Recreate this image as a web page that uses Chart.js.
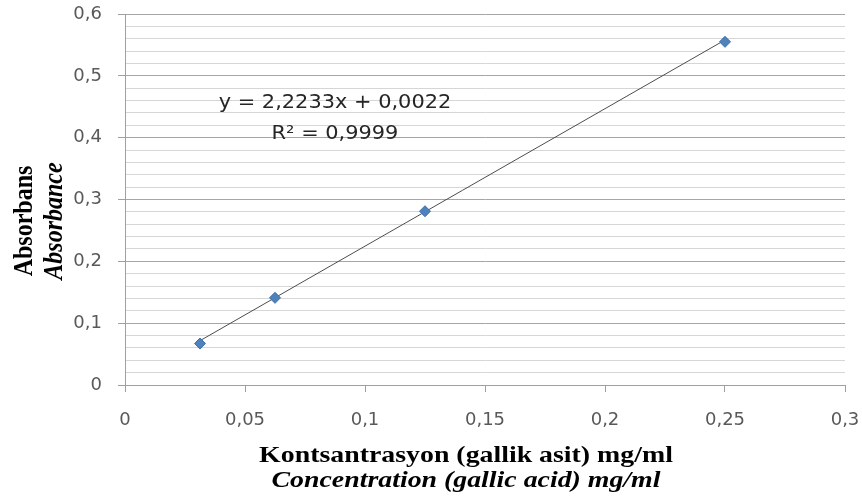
<!DOCTYPE html>
<html>
<head>
<meta charset="utf-8">
<script src="https://cdn.jsdelivr.net/npm/chart.js@4.4.0/dist/chart.umd.min.js"></script>
<style>
  html, body { margin: 0; padding: 0; background: #fff; }
</style>
</head>
<body>
<canvas id="calib" width="862" height="497"></canvas>
<script>
// standard points (gallic acid)
const concentration = [0.03125, 0.0625, 0.125, 0.25];
const absorbance = [0.067, 0.141, 0.281, 0.555];

// linear trendline shown on the chart
const slope = 2.2233;
const intercept = 0.0022;
const eqLines = ['y = 2,2233x + 0,0022', 'R² = 0,9999'];

const xTitle = ['Kontsantrasyon (gallik asit) mg/ml', 'Concentration (gallic acid) mg/ml'];
const yTitle = ['Absorbans', 'Absorbance'];

const xTicks = { min: 0, max: 0.3, step: 0.05 };
const yTicks = { min: 0, max: 0.6, step: 0.02 };

const fmt = v => String(Math.round(v * 1000) / 1000).replace('.', ',');
const isMajor = v => Math.abs(v * 10 - Math.round(v * 10)) < 1e-6;

const points = concentration.map((c, i) => ({ x: c, y: absorbance[i] }));
const xFirst = concentration[0];
const xLast = concentration[concentration.length - 1];
const trend = [
	{ x: xFirst, y: slope * xFirst + intercept },
	{ x: xLast, y: slope * xLast + intercept },
];

const textLayer = {
	id: 'textLayer',
	afterDraw(chart) {
		const ctx = chart.ctx;
		const xs = chart.scales.x;
		const ys = chart.scales.y;

		// equation
		ctx.save();
		ctx.fillStyle = '#262626';
		ctx.font = '19px "DejaVu Sans"';
		ctx.textAlign = 'center';
		ctx.textBaseline = 'middle';
		const ex = xs.getPixelForValue(0.0875);
		[0.4561, 0.4059].forEach((v, i) => {
			ctx.save();
			ctx.translate(ex, ys.getPixelForValue(v));
			ctx.scale(1.1, 1);
			ctx.fillText(eqLines[i], 0, 0);
			ctx.restore();
		});
		ctx.restore();

		// x title
		ctx.save();
		ctx.fillStyle = '#000';
		ctx.textAlign = 'center';
		ctx.textBaseline = 'alphabetic';
		const fonts = ['bold 24px "Liberation Serif"', 'italic bold 24px "Liberation Serif"'];
		[462, 487].forEach((by, i) => {
			ctx.save();
			ctx.font = fonts[i];
			ctx.translate(466, by);
			ctx.scale(1.16, 1);
			ctx.fillText(xTitle[i], 0, 0);
			ctx.restore();
		});

		// y title (rotated)
		[32, 62].forEach((bx, i) => {
			ctx.save();
			ctx.font = fonts[i];
			ctx.translate(bx, 221);
			ctx.scale(1.16, 1);
			ctx.rotate(-Math.PI / 2);
			ctx.fillText(yTitle[i], 0, 0);
			ctx.restore();
		});
		ctx.restore();
	}
};

new Chart(document.getElementById('calib'), {
	type: 'scatter',
	data: {
		datasets: [
			{
				label: 'Absorbance',
				data: points,
				pointStyle: 'rectRot',
				pointRadius: 5.5,
				backgroundColor: '#4f81bd',
				borderColor: '#3c6ea8',
				borderWidth: 1,
				order: 1,
			},
			{
				type: 'line',
				label: 'Trend',
				data: trend,
				borderColor: '#4d4d4d',
				borderWidth: 1,
				pointRadius: 0,
				fill: false,
				order: 2,
			},
		],
	},
	options: {
		responsive: false,
		animation: false,
		layout: { padding: { top: 14, right: 17, left: 0, bottom: 0 } },
		plugins: {
			legend: { display: false },
			tooltip: { enabled: false },
		},
		scales: {
			x: {
				type: 'linear',
				min: xTicks.min,
				max: xTicks.max,
				afterFit: s => {
					s.height = 112;
					s.paddingLeft = 0;
					s.paddingRight = 0;
				},
				ticks: {
					stepSize: xTicks.step,
					maxTicksLimit: 100,
					autoSkip: false,
					maxRotation: 0,
					padding: 18,
					color: '#595959',
					font: { family: 'DejaVu Sans', size: 18 },
					callback: v => fmt(v),
				},
				grid: {
					drawOnChartArea: false,
					drawTicks: true,
					tickLength: 7,
					tickColor: '#a0a0a0',
					color: '#a0a0a0',
				},
				border: { display: true, color: '#a0a0a0' },
			},
			y: {
				type: 'linear',
				min: yTicks.min,
				max: yTicks.max,
				afterFit: s => {
					s.width = 125;
					s.paddingTop = 0;
					s.paddingBottom = 0;
				},
				ticks: {
					stepSize: yTicks.step,
					maxTicksLimit: 100,
					autoSkip: false,
					padding: 16,
					color: '#595959',
					font: { family: 'DejaVu Sans', size: 18 },
					callback: v => (isMajor(v) ? fmt(v) : ''),
				},
				grid: {
					tickLength: 7,
					color: c => (isMajor(c.tick.value) ? '#a6a6a6' : '#d6d6d6'),
					tickColor: c => (isMajor(c.tick.value) ? '#a0a0a0' : 'rgba(0,0,0,0)'),
				},
				border: { display: true, color: '#a0a0a0' },
			},
		},
	},
	plugins: [textLayer],
});
</script>
</body>
</html>
